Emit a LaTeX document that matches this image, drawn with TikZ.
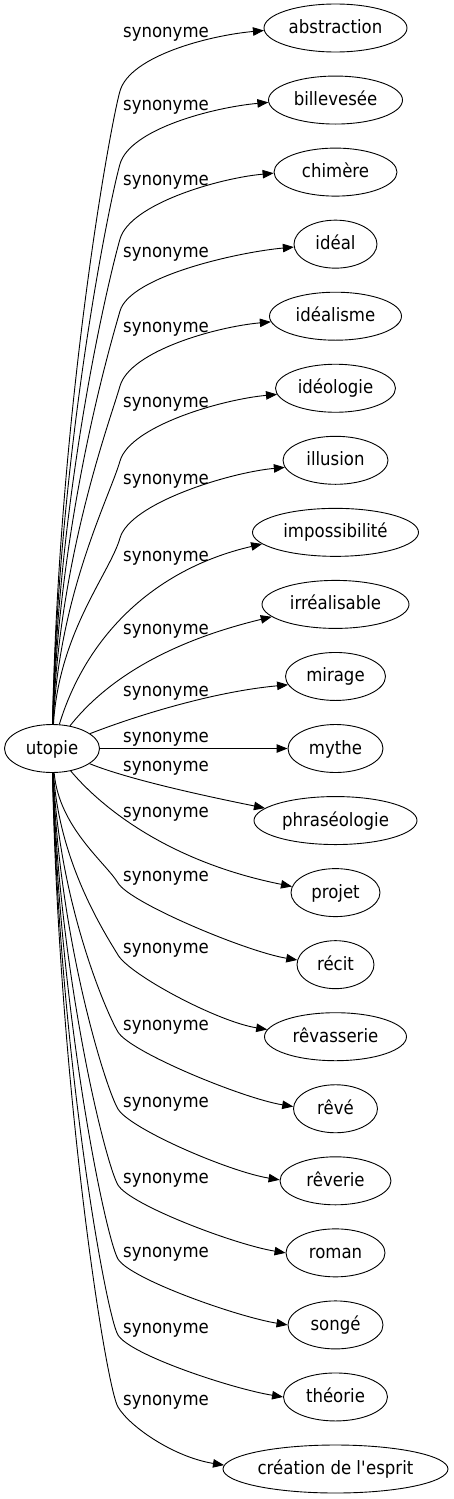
\documentclass[tikz,border=0pt]{standalone}
\usepackage{fontspec}
\setmainfont{DejaVu Sans}[FakeStretch=0.9]
\usetikzlibrary{arrows.meta,shapes.geometric,calc}
\tikzset{
  term/.style={draw, ellipse, line width=0.9pt, inner sep=0pt, minimum height=48pt,
    text height=14pt, text depth=3pt, font=\fontsize{18.4}{20}\selectfont},
  syn/.style={font=\fontsize{18.4}{20}\selectfont, inner sep=0pt, anchor=base},
  edge/.style={line width=0.9pt, -{Triangle[length=11pt,width=8.5pt]}},
}
\begin{document}
\begin{tikzpicture}[x=1pt,y=-1pt]
\fill[white] (0,0) rectangle (453,1499);
\useasboundingbox (0,0) rectangle (453,1499);

\node[term, minimum width=95pt] (utopie) at (52,748.5) {utopie};

\foreach \i/\w/\txt in {1/143/abstraction, 2/134/billevesée, 3/123/chimère, 4/83/idéal,
  5/132/idéalisme, 6/120/idéologie, 7/105/illusion, 8/166/impossibilité,
  9/147/irréalisable, 10/100/mirage, 11/95/mythe, 12/163/phraséologie,
  13/89/projet, 14/77/récit, 15/142/rêvasserie, 16/84/rêvé, 17/111/rêverie,
  18/99/roman, 19/95/songé, 20/104/théorie, 21/225/création de l\textquotesingle esprit}
  \node[term, minimum width=\w pt] (n\i) at (335.5,{28+72.05*(\i-1)}) {\txt};

\foreach \i/\yl in {1/33, 2/106, 3/181, 4/253, 5/328, 6/403, 7/480, 8/557, 9/630,
  10/692, 11/738, 12/767, 13/813, 14/877, 15/949, 16/1026, 17/1103, 18/1179,
  19/1253, 20/1329, 21/1401}
  \node[syn] (l\i) at (166,{\yl+4.5}) {synonyme};

% upper edges
\foreach \i/\yl/\ang in {1/33/182, 2/106/182, 3/181/181, 4/253/184, 5/328/185, 6/403/186, 7/480/188}
{
  \pgfmathsetmacro\by{\yl+58}
  \draw[edge] (utopie) .. controls (59,{(726+\by)/2}) and (110,{\by+35}) .. (120,\by)
    .. controls (130,{\by-35}) and ($(n\i.\ang)+(-55,5)$) .. (n\i.\ang);
}

% middle edges
\draw[edge] (utopie) .. controls (85,640) and (150,570) .. (n8.189);
\draw[edge] (utopie) .. controls (100,688) and (155,645) .. (n9.191);
\draw[edge] (utopie) .. controls (130,718) and (210,692) .. (n10.190);
\draw[edge] (utopie) -- (n11);
\draw[edge] (utopie) .. controls (130,780) and (210,797) .. (n12.170);
\draw[edge] (utopie) .. controls (95,800) and (160,860) .. (n13.172);

% lower edges
\foreach \i/\yl/\ang in {14/877/173, 15/949/174, 16/1026/177, 17/1103/179, 18/1179/180,
  19/1253/180, 20/1329/180, 21/1401/178}
{
  \pgfmathsetmacro\by{\yl+6}
  \draw[edge] (utopie) .. controls (59,{(772+\by)/2}) and (106,{\by-20}) .. (118,\by)
    .. controls (130,{\by+20}) and ($(n\i.\ang)+(-50,-8)$) .. (n\i.\ang);
}
\end{tikzpicture}
\end{document}
